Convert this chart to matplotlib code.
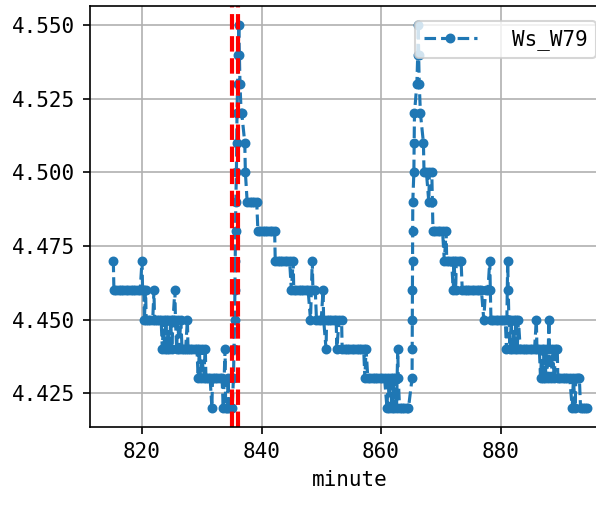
import matplotlib
matplotlib.use('Agg')
from matplotlib import pyplot as plt
from matplotlib.ticker import MultipleLocator, FormatStrFormatter

plt.rcParams['font.family'] = ['DejaVu Sans Mono']

# minute, Ws_W79 readings
minute = [
    815.2, 815.3, 815.7, 816.1, 816.5, 816.9, 817.3, 817.7, 818.1, 818.5, 818.9, 819.3, 819.7,
    820.0, 820.1, 820.3, 820.4, 820.6, 820.7, 821.0, 821.4, 821.8, 822.0, 822.1, 822.5, 822.8,
    823.2, 823.4, 823.6, 823.8, 824.0, 824.2, 824.4, 824.6, 824.8, 825.0, 825.2, 825.5, 825.6,
    825.8, 826.0, 826.2, 826.5, 826.7, 827.0, 827.3, 827.6, 827.7, 828.0, 828.4, 828.8, 829.2,
    829.4, 829.6, 829.8, 830.0, 830.3, 830.6, 830.7, 831.0, 831.4, 831.7, 831.8, 832.2, 832.6,
    833.0, 833.4, 833.6, 833.9, 834.0, 834.3, 834.4, 834.6, 834.9, 835.1,
    835.3, 835.4, 835.5, 835.55, 835.6, 835.65, 835.7, 835.8, 835.85, 835.9, 836.0, 836.1, 836.2,
    836.3, 836.4, 836.6, 836.7, 837.2, 837.3, 837.6, 838.0, 838.4, 838.8, 839.2, 839.4, 839.8,
    840.2, 840.6, 841.0, 841.4, 841.8, 842.2, 842.3, 842.7, 843.1, 843.5, 843.9, 844.3, 844.7,
    845.0, 845.3, 845.4, 845.8, 846.2, 846.6, 847.0, 847.4, 847.8, 848.2, 848.5, 848.6, 849.0,
    849.2, 849.6, 850.0, 850.3, 850.4, 850.8, 850.9, 851.3, 851.7, 852.1, 852.5, 852.6, 853.0,
    853.4, 853.5, 853.9, 854.3, 854.7, 855.1, 855.5, 855.9, 856.3, 856.7, 857.1, 857.3, 857.5,
    857.8, 858.2, 858.6, 859.0, 859.4, 859.8, 860.2, 860.6, 861.0, 861.2, 861.4, 861.6, 861.8,
    862.0, 862.2, 862.4, 862.6, 862.8, 862.9, 863.1, 863.5, 863.9, 864.3, 864.6,
    865.2, 865.22, 865.24, 865.26, 865.28, 865.3, 865.32, 865.5, 865.55, 865.6, 866.0, 866.15,
    866.25,
    866.3, 866.4, 866.6, 867.1, 867.2, 867.6, 868.0, 868.1, 868.5, 868.6, 868.7, 869.1, 869.5,
    869.9, 870.3, 870.6, 870.9, 871.0, 871.4, 871.8, 872.1, 872.2, 872.5, 872.6, 873.0, 873.4,
    873.6, 874.0, 874.4, 874.8, 875.2, 875.6, 876.0, 876.4, 876.8, 877.2, 877.5, 877.9, 878.2,
    878.3, 878.4, 878.8, 879.2, 879.6, 880.0, 880.4, 880.8, 881.0, 881.2, 881.3, 881.4, 881.6,
    881.8, 882.0, 882.2, 882.4, 882.6, 882.8, 883.0, 883.3, 883.7, 884.1, 884.5, 884.9, 885.3,
    885.7, 886.0, 886.1, 886.5, 886.7, 886.9, 887.1, 887.3, 887.5, 887.7, 887.9, 888.1, 888.2,
    888.5, 888.7, 889.0, 889.2, 889.5, 889.6, 890.0, 890.4, 890.8, 891.2, 891.6, 892.0, 892.2,
    892.5, 892.6, 892.9, 893.2, 893.4, 893.8, 894.2, 894.5,
]
ws_w79 = [
    4.47, 4.46, 4.46, 4.46, 4.46, 4.46, 4.46, 4.46, 4.46, 4.46, 4.46, 4.46, 4.46,
    4.47, 4.46, 4.46, 4.45, 4.46, 4.45, 4.45, 4.45, 4.45, 4.46, 4.45, 4.45, 4.45,
    4.45, 4.44, 4.45, 4.44, 4.45, 4.44, 4.45, 4.44, 4.45, 4.44, 4.45, 4.46, 4.45,
    4.44, 4.45, 4.44, 4.45, 4.44, 4.44, 4.44, 4.45, 4.44, 4.44, 4.44, 4.44, 4.44,
    4.43, 4.44, 4.43, 4.44, 4.43, 4.44, 4.43, 4.43, 4.43, 4.42, 4.43, 4.43, 4.43,
    4.43, 4.43, 4.42, 4.44, 4.42, 4.42, 4.43, 4.42, 4.42, 4.42,
    4.43, 4.44, 4.45, 4.46, 4.47, 4.48, 4.49, 4.50, 4.51, 4.52, 4.53, 4.54, 4.55,
    4.54, 4.53, 4.52, 4.52, 4.51, 4.50, 4.49, 4.49, 4.49, 4.49, 4.49, 4.48, 4.48,
    4.48, 4.48, 4.48, 4.48, 4.48, 4.48, 4.47, 4.47, 4.47, 4.47, 4.47, 4.47, 4.47,
    4.46, 4.47, 4.46, 4.46, 4.46, 4.46, 4.46, 4.46, 4.46, 4.45, 4.47, 4.46, 4.46,
    4.45, 4.45, 4.45, 4.46, 4.45, 4.44, 4.45, 4.45, 4.45, 4.45, 4.45, 4.44, 4.45,
    4.45, 4.44, 4.44, 4.44, 4.44, 4.44, 4.44, 4.44, 4.44, 4.44, 4.44, 4.43, 4.44,
    4.43, 4.43, 4.43, 4.43, 4.43, 4.43, 4.43, 4.43, 4.42, 4.43, 4.42, 4.43, 4.42,
    4.43, 4.42, 4.43, 4.42, 4.44, 4.43, 4.42, 4.42, 4.42, 4.42, 4.42,
    4.43, 4.44, 4.45, 4.46, 4.47, 4.48, 4.49, 4.50, 4.51, 4.52, 4.53, 4.54,
    4.55,
    4.54, 4.53, 4.52, 4.51, 4.50, 4.50, 4.49, 4.50, 4.50, 4.49, 4.48, 4.48, 4.48,
    4.48, 4.48, 4.47, 4.48, 4.47, 4.47, 4.47, 4.46, 4.47, 4.46, 4.47, 4.47, 4.47,
    4.46, 4.46, 4.46, 4.46, 4.46, 4.46, 4.46, 4.46, 4.46, 4.45, 4.46, 4.46, 4.47,
    4.46, 4.45, 4.45, 4.45, 4.45, 4.45, 4.45, 4.45, 4.44, 4.47, 4.46, 4.45, 4.44,
    4.45, 4.44, 4.45, 4.44, 4.45, 4.44, 4.45, 4.44, 4.44, 4.44, 4.44, 4.44, 4.44,
    4.44, 4.45, 4.44, 4.44, 4.43, 4.44, 4.43, 4.44, 4.43, 4.44, 4.43, 4.45, 4.44,
    4.43, 4.44, 4.43, 4.44, 4.44, 4.43, 4.43, 4.43, 4.43, 4.43, 4.43, 4.42, 4.43,
    4.42, 4.43, 4.43, 4.43, 4.42, 4.42, 4.42, 4.42,
]
marks = [835, 836]

fig = plt.figure(figsize=(596 / 150, 506 / 150), dpi=150)
ax = fig.add_axes([0, 0, 1, 1])
ax.plot(minute, ws_w79, '.--', markersize=7.5, label='Ws_W79')
for m in marks:
    ax.axvline(m, color='red', linestyle='--', linewidth=2)
ax.grid(True)
ax.yaxis.set_major_locator(MultipleLocator(0.025))
ax.yaxis.set_major_formatter(FormatStrFormatter('%.3f'))
ax.set_xlabel('minute')
ax.legend(loc='upper right', handlelength=2.55, handletextpad=1.7, borderaxespad=0.7)

# place axes so the scale matches the reference (820 tick at ~142px, 5.975 px/min)
x0, x1 = ax.get_xlim()
left = 142 - (820 - x0) * 5.975
width = (x1 - x0) * 5.975
ax.set_position([left / 596, (506 - 427) / 506, width / 596, (427 - 6) / 506])

fig.savefig('out.png', dpi=150)
